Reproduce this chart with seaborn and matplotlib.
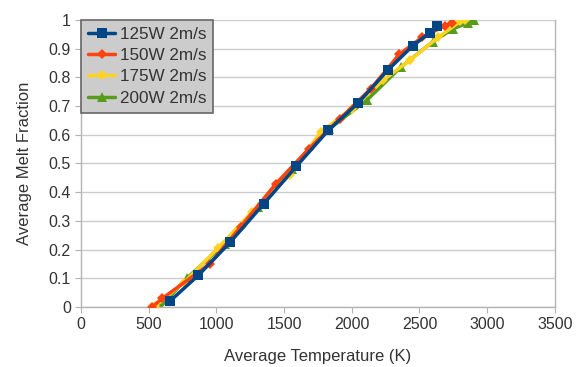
import pandas as pd
import numpy as np
import matplotlib
matplotlib.use("Agg")
import matplotlib.pyplot as plt
import seaborn as sns

# Average temperature (K) and melt fraction
temp_125 = [655, 865, 1100, 1350, 1590, 1825, 2045, 2265, 2450, 2575, 2630]
melt_125 = [0.02, 0.11, 0.225, 0.36, 0.49, 0.615, 0.71, 0.825, 0.91, 0.955, 0.98]

temp_150 = [525, 600, 950, 1180, 1440, 1680, 1910, 2140, 2350, 2520, 2690, 2740]
melt_150 = [0.0, 0.03, 0.15, 0.28, 0.43, 0.55, 0.655, 0.76, 0.88, 0.94, 0.98, 0.99]

temp_175 = [548, 760, 1010, 1260, 1540, 1770, 2000, 2230, 2430, 2640, 2800, 2840]
melt_175 = [0.005, 0.085, 0.205, 0.33, 0.46, 0.61, 0.69, 0.79, 0.86, 0.94, 0.995, 1.0]

temp_200 = [585, 780, 1060, 1310, 1560, 1830, 2110, 2360, 2600, 2750, 2860, 2900]
melt_200 = [0.0, 0.1, 0.22, 0.35, 0.48, 0.62, 0.72, 0.835, 0.925, 0.97, 0.99, 1.0]

labels = ["125W 2m/s", "150W 2m/s", "175W 2m/s", "200W 2m/s"]
x_ticks = [0, 500, 1000, 1500, 2000, 2500, 3000, 3500]
y_ticks = [0, 0.1, 0.2, 0.3, 0.4, 0.5, 0.6, 0.7, 0.8, 0.9, 1]

series = [
    (temp_125, melt_125, "#004586", "s", 7.5, 5),
    (temp_150, melt_150, "#ff420e", "D", 5, 4),
    (temp_175, melt_175, "#ffd320", "D", 5, 3),
    (temp_200, melt_200, "#579d1c", "^", 7.5, 2),
]

sns.set_style("white")
plt.rcParams["font.family"] = ["Liberation Sans", "DejaVu Sans"]

fig = plt.figure(figsize=(5.84, 3.67), dpi=100)
ax = fig.add_axes([0.139, 0.1635, 0.811, 0.782])

for (t, m, color, marker, ms, z), label in zip(series, labels):
    df = pd.DataFrame({"temp": t, "melt": m})
    sns.lineplot(data=df, x="temp", y="melt", ax=ax, color=color, marker=marker,
                 markersize=ms, markeredgewidth=0, linewidth=2.5, sort=False,
                 label=label, zorder=z)

ax.set_xlim(0, 3500)
ax.set_ylim(0, 1)
ax.set_xticks(x_ticks)
ax.set_yticks(y_ticks)
ax.set_yticklabels([f"{v:g}" for v in y_ticks])
ax.yaxis.grid(True, color="#cccccc", linewidth=1)
ax.xaxis.grid(False)
for s in ax.spines.values():
    s.set_color("#b3b3b3")
    s.set_linewidth(1)
ax.spines["top"].set_visible(False)
ax.tick_params(axis="both", which="both", length=4, color="#b3b3b3",
               labelsize=11.5, labelcolor="#333333", direction="out",
               bottom=True, left=True)
ax.set_xlabel("Average Temperature (K)", fontsize=12, color="#333333", labelpad=12)
ax.set_ylabel("Average Melt Fraction", fontsize=12, color="#333333", labelpad=12)

leg = ax.legend(loc="upper left", borderaxespad=0, fontsize=12.3, frameon=True,
                fancybox=False, handlelength=1.6, handletextpad=0.25,
                labelspacing=0.37, borderpad=0.4)
leg.get_frame().set_facecolor("#cccccc")
leg.get_frame().set_edgecolor("#666666")
leg.get_frame().set_alpha(1)
leg.get_frame().set_linewidth(1.2)
for txt in leg.get_texts():
    txt.set_color("#333333")

fig.savefig("out.png", dpi=100)
